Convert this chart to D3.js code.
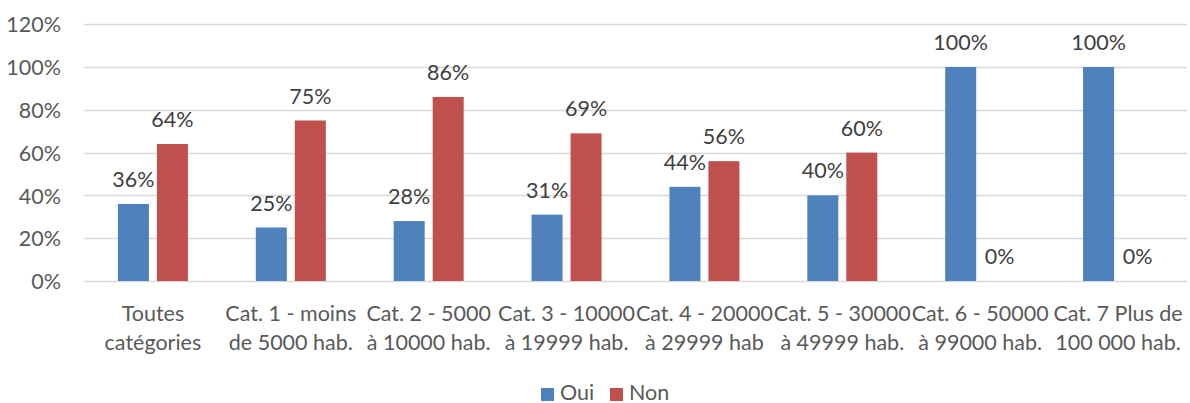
<!DOCTYPE html>
<html><head><meta charset="utf-8">
<script src="https://cdn.jsdelivr.net/npm/d3@7"></script>
<style>body{margin:0;background:#fff}svg{display:block}</style>
</head><body>
<svg id="c" width="1190" height="403"></svg>
<script>
const categories = [
  ["Toutes","catégories"],
  ["Cat. 1 - moins","de 5000 hab."],
  ["Cat. 2 - 5000","à 10000 hab."],
  ["Cat. 3 - 10000","à 19999 hab."],
  ["Cat. 4 - 20000","à 29999 hab"],
  ["Cat. 5 - 30000","à 49999 hab."],
  ["Cat. 6 - 50000","à 99000 hab."],
  ["Cat. 7 Plus de","100 000 hab."]
];
const seriesNames = ["Oui","Non"];
const oui = [0.36,0.25,0.28,0.31,0.44,0.40,1.00,1.00];
const non = [0.64,0.75,0.86,0.69,0.56,0.60,0.00,0.00];
const yTicks = [0,0.2,0.4,0.6,0.8,1.0,1.2];
const colors = ["#4F81BD","#C0504D"];

(function(){
const svg = d3.select("#c");
const font = "Lato, 'Open Sans', sans-serif";
const fs = 21.5;
const mLeft = 84, mRight = 1187, mTop = 24.2, mBottom = 281;
const x = d3.scaleBand().domain(d3.range(categories.length)).range([mLeft,mRight]);
const y = d3.scaleLinear().domain([0,1.2]).range([mBottom,mTop]);
const barW = 31, gap = 8;

svg.append("g").selectAll("line").data(yTicks).join("line")
  .attr("x1",mLeft).attr("x2",mRight)
  .attr("y1",d=>Math.round(y(d))+0.5).attr("y2",d=>Math.round(y(d))+0.5)
  .attr("stroke","#D9D9D9").attr("stroke-width",1.5);

const yAxis = d3.axisLeft(y).tickValues(yTicks).tickFormat(d=>Math.round(d*100)+"%").tickSize(0).tickPadding(0);
const ga = svg.append("g").attr("transform",`translate(${mLeft-23},0)`).call(yAxis);
ga.select(".domain").remove();
ga.selectAll("text").attr("font-family",font).attr("font-size",fs).attr("fill","#595959").attr("dy","0.36em");

const data = [oui, non];
const offsets = [-(gap/2+barW), gap/2];
data.forEach((vals,s)=>{
  const g = svg.append("g");
  g.selectAll("rect").data(vals).join("rect")
    .attr("x",(d,i)=>x(i)+x.bandwidth()/2+offsets[s])
    .attr("width",barW)
    .attr("y",d=>y(d)).attr("height",d=>y(0)-y(d))
    .attr("fill",colors[s]);
  g.selectAll("text").data(vals).join("text")
    .attr("x",(d,i)=>x(i)+x.bandwidth()/2+offsets[s]+barW/2)
    .attr("y",d=>y(d)-17)
    .attr("text-anchor","middle")
    .attr("font-family",font).attr("font-size",fs).attr("fill","#404040")
    .text(d=>Math.round(d*100)+"%");
});

const cg = svg.append("g");
categories.forEach((lines,i)=>{
  const t = cg.append("text").attr("text-anchor","middle")
    .attr("font-family",font).attr("font-size",fs).attr("fill","#595959");
  lines.forEach((ln,j)=>{
    t.append("tspan").attr("x",x(i)+x.bandwidth()/2).attr("y",321+j*28.5).text(ln);
  });
});

const lg = svg.append("g");
const legX = [541, 610];
seriesNames.forEach((n,i)=>{
  lg.append("rect").attr("x",legX[i]).attr("y",388).attr("width",13).attr("height",13).attr("fill",colors[i]);
  lg.append("text").attr("x",legX[i]+19).attr("y",399.5).attr("font-family",font).attr("font-size",fs).attr("fill","#595959").text(n);
});
})();
</script>
</body></html>
